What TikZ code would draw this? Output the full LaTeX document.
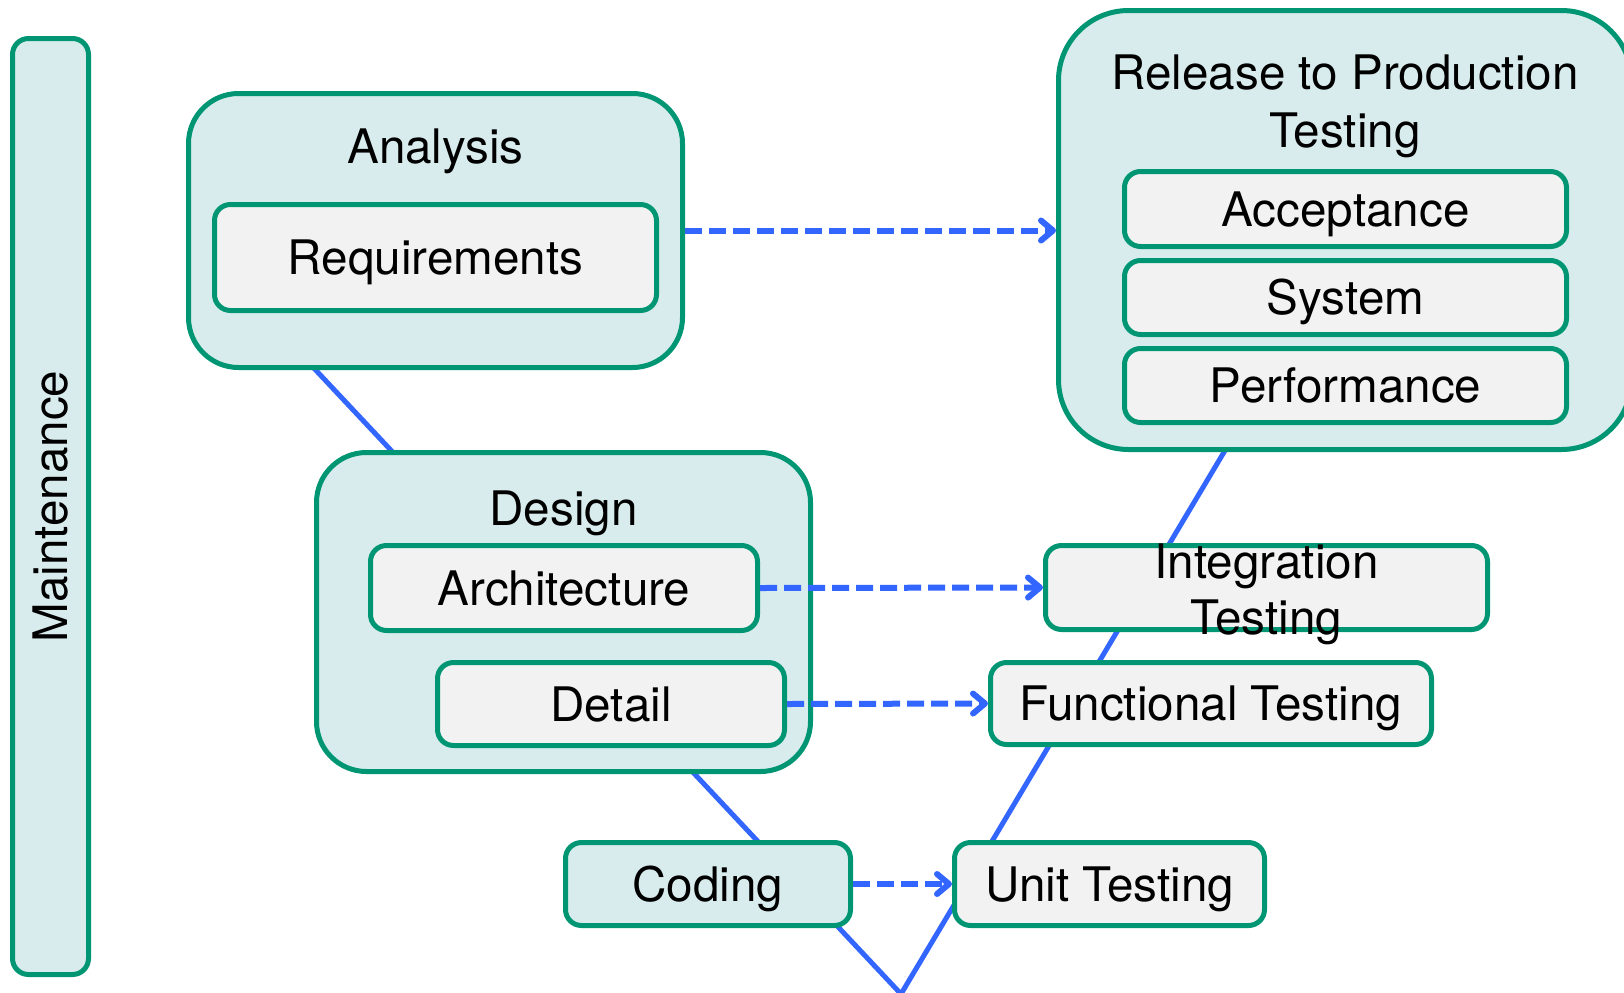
\documentclass[tikz,border=0pt]{standalone}
\usepackage{fontspec}
\setmainfont{TeX Gyre Heros}
\usetikzlibrary{arrows.meta}
\definecolor{vgreen}{RGB}{0,150,115}
\definecolor{vteal}{RGB}{217,236,237}
\definecolor{vgray}{RGB}{242,242,242}
\definecolor{vblue}{RGB}{51,102,255}
\begin{document}
\begin{tikzpicture}[x=0.5pt,y=-0.5pt]
\tikzstyle{every node}+=[inner sep=0pt, font=\fontsize{23.8}{29}\selectfont]
\tikzstyle{phase}=[draw=vgreen, line width=2.5pt, fill=vteal, rounded corners=25pt]
\tikzstyle{task}=[draw=vgreen, line width=2.5pt, fill=vgray, rounded corners=8pt, text height=17pt, text depth=0pt]
\tikzstyle{vline}=[vblue, line width=2.5pt]
\tikzstyle{flow}=[vblue, line width=3pt, dash pattern=on 8.5pt off 3.5pt, -{Straight Barb[length=6pt,width=10pt,round]}]
\useasboundingbox (0,0) rectangle (1624,992);
\coordinate (vl) at (250,300);
\coordinate (vb) at (901,994);
\coordinate (vr) at (1267,380);
\draw [vline] (vl) -- (vb) -- (vr);
\node [task, fill=vteal, rotate=90, minimum width=468pt, minimum height=38pt] (maint) at (50.5,506.5) {Maintenance};
\node [phase, minimum width=247pt, minimum height=137pt] (ana) at (435.5,230.5) {};
\node [anchor=base] (anat) at (435.5,163) {Analysis};
\node [task, minimum width=221pt, minimum height=53pt] (req) at (435.5,257.5) {Requirements};
\node [phase, rounded corners=35pt, minimum width=286.5pt, minimum height=219.5pt] (rel) at (1345,230) {};
\node [align=center] (relt) at (1345,106) {Release to Production\\Testing};
\node [task, minimum width=221pt, minimum height=37.5pt] (acc) at (1345.5,209) {Acceptance};
\node [task, minimum width=221pt, minimum height=37pt] (sys) at (1345.5,297.5) {System};
\node [task, minimum width=221pt, minimum height=37pt] (perf) at (1345.5,385.5) {Performance};
\node [phase, minimum width=247pt, minimum height=159.5pt] (des) at (563.5,612) {};
\node [anchor=base] (dest) at (563.5,525) {Design};
\node [task, minimum width=193.5pt, minimum height=42.5pt] (arch) at (564,588) {Architecture};
\node [task, minimum width=173.5pt, minimum height=41.5pt] (det) at (611,704) {Detail};
\node [task, fill=vteal, minimum width=142.5pt, minimum height=41.5pt] (cod) at (708,884) {Coding};
\node [task, minimum width=155pt, minimum height=41.5pt] (unit) at (1109.5,884) {Unit Testing};
\node [task, minimum width=220.5pt, minimum height=41pt] (func) at (1211,703.5) {Functional Testing};
\node [task, minimum width=221pt, minimum height=42pt] (integ) at (1266.5,587.5) {};
\node [align=center, font=\fontsize{23.8}{28}\selectfont] (integt) at (1266.5,594) {Integration\\Testing};
\draw [flow] (ana.east) -- (ana.east -| rel.west);
\draw [flow] (arch.east) -- (integ.west);
\draw [flow] (det.east) -- (func.west);
\draw [flow] (cod.east) -- (unit.west);
\end{tikzpicture}
\end{document}
